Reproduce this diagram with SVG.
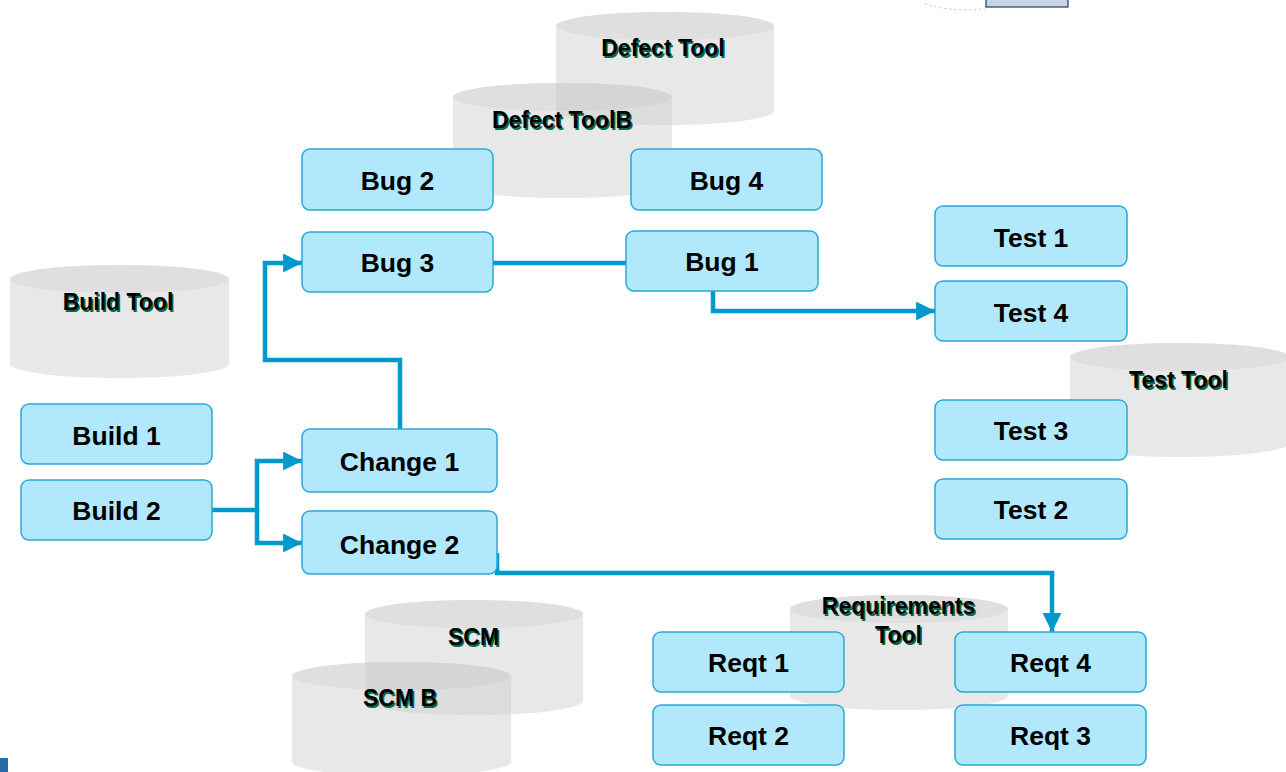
<svg xmlns="http://www.w3.org/2000/svg" width="1286" height="772" viewBox="0 0 1286 772">
<style>
.cyl-body{fill:#cfcfcf;fill-opacity:0.48}
.cyl-top{fill:#bdbdbd;fill-opacity:0.22}
.box{fill:#b1e8fb;stroke:#2aa8d8;stroke-width:1.5}
.bt{font-family:"Liberation Sans",Arial,sans-serif;font-weight:bold;font-size:26.5px;fill:#000;text-anchor:middle;dominant-baseline:central}
.ct{font-family:"Liberation Sans",Arial,sans-serif;font-weight:bold;font-size:23px;text-anchor:middle;dominant-baseline:central}
.sh{fill:#006b4a}
.fg{fill:#000}
.conn{fill:none;stroke:#0099cc;stroke-width:4.5}
</style>
<defs>
<marker id="ah" viewBox="0 0 10 10" refX="10" refY="5" markerWidth="4.4" markerHeight="4.2" markerUnits="strokeWidth" orient="auto">
<path d="M0,0 L10,5 L0,10 z" fill="#0099cc"/>
</marker>
</defs>
<rect width="1286" height="772" fill="#fff"/>
<!-- slide artifacts -->
<path d="M925,4 Q950,12 985,9" fill="none" stroke="#bbb" stroke-width="1" stroke-dasharray="2,3"/>
<rect x="986" y="-2" width="82" height="9" fill="#c9d3e6" stroke="#1f3a6e" stroke-width="1.2"/>
<rect x="0" y="758" width="8" height="14" fill="#2a6aa8"/>

<!-- cylinders -->
<g id="cyl-defect-tool">
<path class="cyl-body" d="M556,26 A109,14 0 0 1 774,26 L774,111 A109,14 0 0 1 556,111 Z"/>
<ellipse class="cyl-top" cx="665" cy="26" rx="109" ry="14"/>
<text class="ct sh" x="664.5" y="49.5">Defect Tool</text><text class="ct fg" x="663" y="48">Defect Tool</text>
</g>
<g id="cyl-defect-toolb">
<path class="cyl-body" d="M453,97 A109.5,14 0 0 1 672,97 L672,184 A109.5,14 0 0 1 453,184 Z"/>
<ellipse class="cyl-top" cx="562.5" cy="97" rx="109.5" ry="14"/>
<text class="ct sh" x="563.5" y="121.5">Defect ToolB</text><text class="ct fg" x="562" y="120">Defect ToolB</text>
</g>
<g id="cyl-build-tool">
<path class="cyl-body" d="M10,279 A109.5,14 0 0 1 229,279 L229,364 A109.5,14 0 0 1 10,364 Z"/>
<ellipse class="cyl-top" cx="119.5" cy="279" rx="109.5" ry="14"/>
<text class="ct sh" x="119.5" y="303.5">Build Tool</text><text class="ct fg" x="118" y="302">Build Tool</text>
</g>
<g id="cyl-test-tool">
<path class="cyl-body" d="M1070,357 A109.5,14 0 0 1 1289,357 L1289,443 A109.5,14 0 0 1 1070,443 Z"/>
<ellipse class="cyl-top" cx="1179.5" cy="357" rx="109.5" ry="14"/>
<text class="ct sh" x="1180" y="381.5">Test Tool</text><text class="ct fg" x="1178.5" y="380">Test Tool</text>
</g>
<g id="cyl-scm">
<path class="cyl-body" d="M365,614 A109,14 0 0 1 583,614 L583,701 A109,14 0 0 1 365,701 Z"/>
<ellipse class="cyl-top" cx="474" cy="614" rx="109" ry="14"/>
<text class="ct sh" x="475" y="638.5">SCM</text><text class="ct fg" x="473.5" y="637">SCM</text>
</g>
<g id="cyl-scm-b">
<path class="cyl-body" d="M292,676 A109.5,14 0 0 1 511,676 L511,762 A109.5,14 0 0 1 292,762 Z"/>
<ellipse class="cyl-top" cx="401.5" cy="676" rx="109.5" ry="14"/>
<text class="ct sh" x="401.5" y="699.5">SCM B</text><text class="ct fg" x="400" y="698">SCM B</text>
</g>
<g id="cyl-requirements-tool">
<path class="cyl-body" d="M790,609 A109,14 0 0 1 1008,609 L1008,696 A109,14 0 0 1 790,696 Z"/>
<ellipse class="cyl-top" cx="899" cy="609" rx="109" ry="14"/>
<text class="ct sh" x="900" y="607.5">Requirements</text><text class="ct fg" x="898.5" y="606">Requirements</text>
<text class="ct sh" x="900" y="636.5">Tool</text><text class="ct fg" x="898.5" y="635">Tool</text>
</g>

<!-- connectors -->
<g id="connectors">
<path class="conn" d="M212,510 H257 V461 H302" marker-end="url(#ah)"/>
<path class="conn" d="M257,510 V543 H302" marker-end="url(#ah)"/>
<path class="conn" d="M400,429 V360 H265 V263 H302" marker-end="url(#ah)"/>
<path class="conn" d="M493,263 H626"/>
<path class="conn" d="M713,291 V311 H935" marker-end="url(#ah)"/>
<path class="conn" d="M497,553 V573 H1052 V632" marker-end="url(#ah)"/>
</g>

<!-- nodes -->
<g id="bug2"><rect class="box" x="302" y="149" width="191" height="61" rx="8"/><text class="bt" x="397.5" y="181">Bug 2</text></g>
<g id="bug4"><rect class="box" x="631" y="149" width="191" height="61" rx="8"/><text class="bt" x="726.5" y="181">Bug 4</text></g>
<g id="bug3"><rect class="box" x="302" y="232" width="191" height="60" rx="8"/><text class="bt" x="397.5" y="263">Bug 3</text></g>
<g id="bug1"><rect class="box" x="626" y="231" width="192" height="60" rx="8"/><text class="bt" x="722" y="262">Bug 1</text></g>
<g id="test1"><rect class="box" x="935" y="206" width="192" height="60" rx="8"/><text class="bt" x="1031" y="238">Test 1</text></g>
<g id="test4"><rect class="box" x="935" y="281" width="192" height="60" rx="8"/><text class="bt" x="1031" y="313">Test 4</text></g>
<g id="test3"><rect class="box" x="935" y="400" width="192" height="60" rx="8"/><text class="bt" x="1031" y="431">Test 3</text></g>
<g id="test2"><rect class="box" x="935" y="479" width="192" height="60" rx="8"/><text class="bt" x="1031" y="510">Test 2</text></g>
<g id="build1"><rect class="box" x="21" y="404" width="191" height="60" rx="8"/><text class="bt" x="116.5" y="436">Build 1</text></g>
<g id="build2"><rect class="box" x="21" y="480" width="191" height="60" rx="8"/><text class="bt" x="116.5" y="511">Build 2</text></g>
<g id="change1"><rect class="box" x="302" y="429" width="195" height="63" rx="8"/><text class="bt" x="399.5" y="462">Change 1</text></g>
<g id="change2"><rect class="box" x="302" y="511" width="195" height="63" rx="8"/><text class="bt" x="399.5" y="545">Change 2</text></g>
<g id="reqt1"><rect class="box" x="653" y="632" width="191" height="60" rx="8"/><text class="bt" x="748.5" y="663">Reqt 1</text></g>
<g id="reqt2"><rect class="box" x="653" y="705" width="191" height="60" rx="8"/><text class="bt" x="748.5" y="736">Reqt 2</text></g>
<g id="reqt4"><rect class="box" x="955" y="632" width="191" height="60" rx="8"/><text class="bt" x="1050.5" y="663">Reqt 4</text></g>
<g id="reqt3"><rect class="box" x="955" y="705" width="191" height="60" rx="8"/><text class="bt" x="1050.5" y="736">Reqt 3</text></g>
</svg>
